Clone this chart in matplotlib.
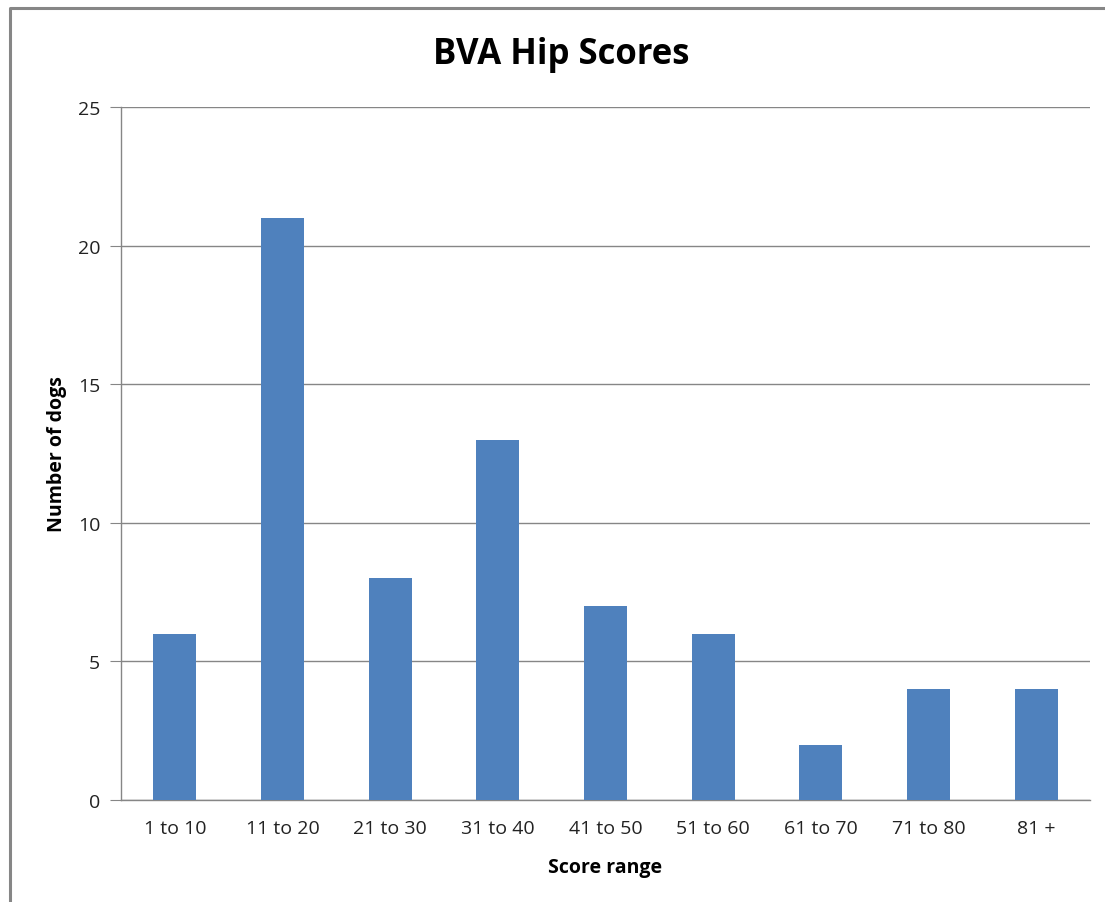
import matplotlib.pyplot as plt
from matplotlib.lines import Line2D

plt.rcParams['font.family'] = ['Open Sans', 'DejaVu Sans']

categories = ['1 to 10', '11 to 20', '21 to 30', '31 to 40', '41 to 50',
              '51 to 60', '61 to 70', '71 to 80', '81 +']
dogs = [6, 21, 8, 13, 7, 6, 2, 4, 4]
yticks = [0, 5, 10, 15, 20, 25]

W, H = 1105, 903
fig = plt.figure(figsize=(W / 100, H / 100), dpi=100)
ax = fig.add_axes([121 / W, 1 - 801 / H, 969 / W, 693 / H])

# outer chart border, only top and left edges show in the picture
fig.lines.append(Line2D([10 / W, 10 / W, 1.0], [0.0, 1 - 9 / H, 1 - 9 / H],
                        transform=fig.transFigure, color='#868686',
                        linewidth=2.2))

x = range(len(categories))
ax.bar(x, dogs, width=0.4, color='#4F81BD', zorder=3)

ax.set_xlim(-0.5, len(categories) - 0.5)
ax.set_ylim(0, 25)
ax.set_yticks(yticks)
ax.set_xticks(list(x))
ax.set_xticklabels(categories)
ax.yaxis.grid(True, color='#868686', linewidth=1)
ax.set_axisbelow(True)

for s in ['top', 'right']:
    ax.spines[s].set_visible(False)
for s in ['left', 'bottom']:
    ax.spines[s].set_color('#868686')
    ax.spines[s].set_linewidth(1)

ax.tick_params(axis='y', length=8, color='#868686', labelsize=14, pad=7,
               labelcolor='#222222')
ax.tick_params(axis='x', length=0, labelsize=14, pad=14, labelcolor='#222222')

fig.text(561 / W, 1 - 55 / H, 'BVA Hip Scores', fontsize=25,
         fontweight='bold', ha='center', va='center')
ax.set_xlabel('Score range', fontsize=14, fontweight='bold', labelpad=14)
ax.set_ylabel('Number of dogs', fontsize=14, fontweight='bold', labelpad=8)

fig.savefig('out.png', dpi=100)
